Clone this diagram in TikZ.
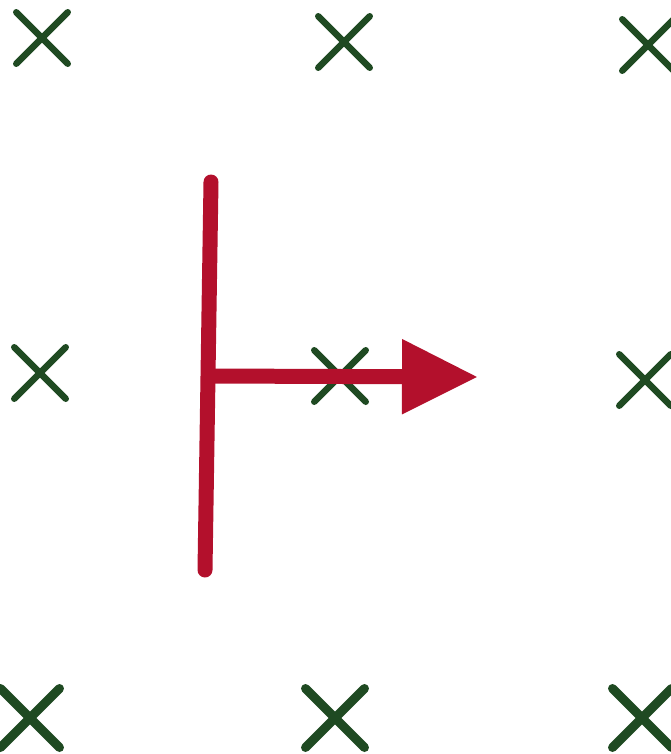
\documentclass[tikz,border=0pt]{standalone}
\usepackage{xcolor}
\usepackage{tikz}
\usetikzlibrary{shapes.misc,arrows.meta}
\definecolor{fieldgreen}{HTML}{1F4A22}
\definecolor{rodred}{HTML}{B3102C}

\begin{document}
\begin{tikzpicture}[x=0.02cm,y=-0.02cm,
  fieldmark/.style={cross out,draw=fieldgreen,line width=0.13cm,line cap=round,minimum size=0.9cm,inner sep=0pt},
  bigmark/.style={fieldmark,line width=0.18cm,minimum size=1cm},
  rod/.style={draw=rodred,line width=0.3cm,line cap=round}]
  \useasboundingbox (0,0) rectangle (671,754);
  % magnetic field into the page
  \node[fieldmark] (m11) at (42,38) {};
  \node[fieldmark] (m12) at (344,42) {};
  \node[fieldmark] (m13) at (648,45) {};
  \node[fieldmark] (m21) at (40,373) {};
  \node[fieldmark] (m22) at (340,376) {};
  \node[fieldmark] (m23) at (645,380) {};
  \node[bigmark] (m31) at (30,718) {};
  \node[bigmark] (m32) at (335,718) {};
  \node[bigmark] (m33) at (642,718) {};
  % conducting rod and its velocity
  \coordinate (rodtop) at (211,182);
  \coordinate (rodbot) at (205,570);
  \coordinate (rodmid) at (209,376);
  \coordinate (vtip) at (478,377);
  \draw[rod] (rodtop) -- (rodbot);
  \draw[rod,line cap=butt,-{Triangle[length=1.52cm,width=1.42cm]}] (rodmid) -- (vtip);
\end{tikzpicture}
\end{document}
